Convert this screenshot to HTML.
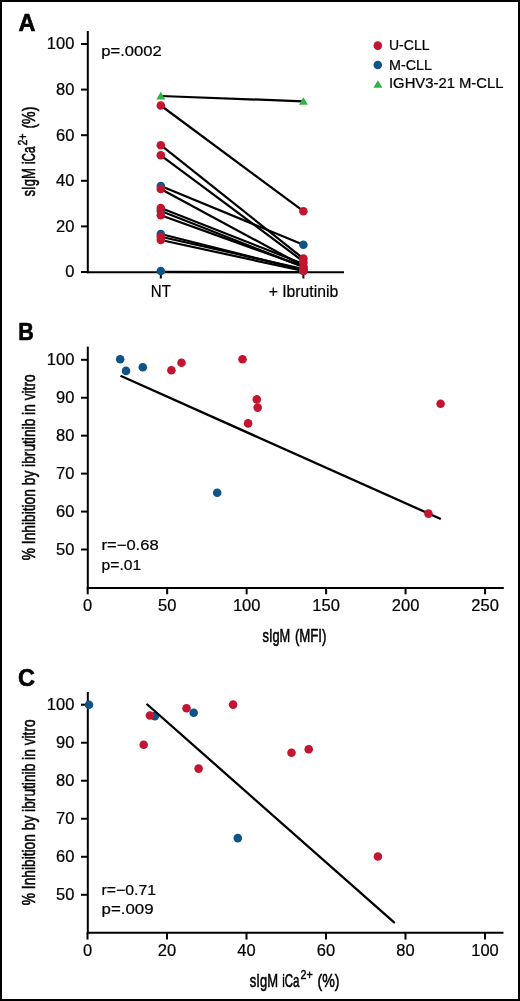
<!DOCTYPE html>
<html><head><meta charset="utf-8"><title>Figure</title>
<style>
html,body{margin:0;padding:0;background:#fff;}
body{width:520px;height:1001px;overflow:hidden;}
svg{display:block;font-family:"Liberation Sans", sans-serif;will-change:transform;}
svg text{fill:#000;}
</style></head>
<body>
<svg width="520" height="1001" viewBox="0 0 520 1001">
<rect x="1" y="1" width="518" height="999" fill="#fff" stroke="#000" stroke-width="2"/>
<line x1="87.8" y1="31" x2="87.8" y2="273.2" stroke="#000" stroke-width="2" stroke-linecap="butt"/>
<line x1="86.8" y1="272.2" x2="344" y2="272.2" stroke="#000" stroke-width="2" stroke-linecap="butt"/>
<line x1="81" y1="272.0" x2="87.8" y2="272.0" stroke="#000" stroke-width="2" stroke-linecap="butt"/>
<g transform="translate(74.3,277.3) scale(1.03,1)"><text x="0" y="0" font-size="16" text-anchor="end" font-weight="normal" stroke="#000" stroke-width="0.22">0</text></g>
<line x1="81" y1="226.4" x2="87.8" y2="226.4" stroke="#000" stroke-width="2" stroke-linecap="butt"/>
<g transform="translate(74.3,231.7) scale(1.03,1)"><text x="0" y="0" font-size="16" text-anchor="end" font-weight="normal" stroke="#000" stroke-width="0.22">20</text></g>
<line x1="81" y1="180.8" x2="87.8" y2="180.8" stroke="#000" stroke-width="2" stroke-linecap="butt"/>
<g transform="translate(74.3,186.1) scale(1.03,1)"><text x="0" y="0" font-size="16" text-anchor="end" font-weight="normal" stroke="#000" stroke-width="0.22">40</text></g>
<line x1="81" y1="135.2" x2="87.8" y2="135.2" stroke="#000" stroke-width="2" stroke-linecap="butt"/>
<g transform="translate(74.3,140.5) scale(1.03,1)"><text x="0" y="0" font-size="16" text-anchor="end" font-weight="normal" stroke="#000" stroke-width="0.22">60</text></g>
<line x1="81" y1="89.6" x2="87.8" y2="89.6" stroke="#000" stroke-width="2" stroke-linecap="butt"/>
<g transform="translate(74.3,94.9) scale(1.03,1)"><text x="0" y="0" font-size="16" text-anchor="end" font-weight="normal" stroke="#000" stroke-width="0.22">80</text></g>
<line x1="81" y1="44" x2="87.8" y2="44" stroke="#000" stroke-width="2" stroke-linecap="butt"/>
<g transform="translate(74.3,49.3) scale(1.03,1)"><text x="0" y="0" font-size="16" text-anchor="end" font-weight="normal" stroke="#000" stroke-width="0.22">100</text></g>
<line x1="160.8" y1="272" x2="160.8" y2="278.5" stroke="#000" stroke-width="2" stroke-linecap="butt"/>
<line x1="303.4" y1="272" x2="303.4" y2="278.5" stroke="#000" stroke-width="2" stroke-linecap="butt"/>
<text x="160.8" y="296.8" font-size="16.5" text-anchor="middle" font-weight="normal" textLength="20" lengthAdjust="spacingAndGlyphs" stroke="#000" stroke-width="0.22">NT</text>
<text x="303.4" y="296.8" font-size="16.5" text-anchor="middle" font-weight="normal" textLength="69.5" lengthAdjust="spacingAndGlyphs" stroke="#000" stroke-width="0.22">+ Ibrutinib</text>
<text x="101.3" y="56.3" font-size="14.5" text-anchor="start" font-weight="normal" textLength="60.5" lengthAdjust="spacingAndGlyphs" stroke="#000" stroke-width="0.22">p=.0002</text>
<circle cx="377.8" cy="45.6" r="4.3" fill="#c41530"/>
<text x="389.0" y="50.3" font-size="14" text-anchor="start" font-weight="normal" stroke="#000" stroke-width="0.22">U-CLL</text>
<circle cx="377.8" cy="65.0" r="4.3" fill="#105486"/>
<text x="389.0" y="69.6" font-size="14" text-anchor="start" font-weight="normal" textLength="43" lengthAdjust="spacingAndGlyphs" stroke="#000" stroke-width="0.22">M-CLL</text>
<path d="M377.9 80.2L382.4 87.8L373.4 87.8Z" fill="#33b04a"/>
<text x="389.0" y="88.4" font-size="14" text-anchor="start" font-weight="normal" textLength="114.5" lengthAdjust="spacingAndGlyphs" stroke="#000" stroke-width="0.22">IGHV3-21 M-CLL</text>
<line x1="160.8" y1="96.0" x2="303.4" y2="101.3" stroke="#000" stroke-width="2.2" stroke-linecap="butt"/>
<line x1="160.8" y1="105.5" x2="303.4" y2="211.2" stroke="#000" stroke-width="2.2" stroke-linecap="butt"/>
<line x1="160.8" y1="145.2" x2="303.4" y2="258.6" stroke="#000" stroke-width="2.2" stroke-linecap="butt"/>
<line x1="160.8" y1="155.3" x2="303.4" y2="261.5" stroke="#000" stroke-width="2.2" stroke-linecap="butt"/>
<line x1="160.8" y1="186.0" x2="303.4" y2="244.7" stroke="#000" stroke-width="2.2" stroke-linecap="butt"/>
<line x1="160.8" y1="189.0" x2="303.4" y2="266.0" stroke="#000" stroke-width="2.2" stroke-linecap="butt"/>
<line x1="160.8" y1="208.0" x2="303.4" y2="264.0" stroke="#000" stroke-width="2.2" stroke-linecap="butt"/>
<line x1="160.8" y1="211.0" x2="303.4" y2="267.0" stroke="#000" stroke-width="2.2" stroke-linecap="butt"/>
<line x1="160.8" y1="215.3" x2="303.4" y2="266.5" stroke="#000" stroke-width="2.2" stroke-linecap="butt"/>
<line x1="160.8" y1="234.0" x2="303.4" y2="270.0" stroke="#000" stroke-width="2.2" stroke-linecap="butt"/>
<line x1="160.8" y1="236.7" x2="303.4" y2="269.0" stroke="#000" stroke-width="2.2" stroke-linecap="butt"/>
<line x1="160.8" y1="240.0" x2="303.4" y2="271.0" stroke="#000" stroke-width="2.2" stroke-linecap="butt"/>
<line x1="160.8" y1="271.8" x2="303.4" y2="272.2" stroke="#000" stroke-width="2.2" stroke-linecap="butt"/>
<circle cx="160.8" cy="186.0" r="4.3" fill="#105486"/>
<circle cx="160.8" cy="211.0" r="4.3" fill="#105486"/>
<circle cx="160.8" cy="234.0" r="4.3" fill="#105486"/>
<circle cx="160.8" cy="271.0" r="4.3" fill="#105486"/>
<circle cx="160.8" cy="105.5" r="4.3" fill="#c41530"/>
<circle cx="160.8" cy="145.2" r="4.3" fill="#c41530"/>
<circle cx="160.8" cy="155.3" r="4.3" fill="#c41530"/>
<circle cx="160.8" cy="189.0" r="4.3" fill="#c41530"/>
<circle cx="160.8" cy="208.0" r="4.3" fill="#c41530"/>
<circle cx="160.8" cy="215.3" r="4.3" fill="#c41530"/>
<circle cx="160.8" cy="236.7" r="4.3" fill="#c41530"/>
<circle cx="160.8" cy="240.0" r="4.3" fill="#c41530"/>
<path d="M160.8 91.8L165.3 99.4L156.3 99.4Z" fill="#33b04a"/>
<circle cx="303.4" cy="244.7" r="4.3" fill="#105486"/>
<circle cx="303.4" cy="267.0" r="4.3" fill="#105486"/>
<circle cx="303.4" cy="270.0" r="4.3" fill="#105486"/>
<circle cx="303.4" cy="271.0" r="4.3" fill="#105486"/>
<circle cx="303.4" cy="211.2" r="4.3" fill="#c41530"/>
<circle cx="303.4" cy="258.6" r="4.3" fill="#c41530"/>
<circle cx="303.4" cy="262.4" r="4.3" fill="#c41530"/>
<circle cx="303.4" cy="267.3" r="4.3" fill="#c41530"/>
<circle cx="303.4" cy="270.6" r="4.3" fill="#c41530"/>
<path d="M303.4 97.2L307.9 104.8L298.9 104.8Z" fill="#33b04a"/>
<g transform="translate(34.8,196.4) rotate(-90)"><g transform="translate(0,0) scale(0.7,1)"><text x="0" y="0" font-size="18.6" stroke="#000" stroke-width="0.55">sIgM</text></g><g transform="translate(32.4,0) scale(0.62,1)"><text x="0" y="0" font-size="18.6" stroke="#000" stroke-width="0.55">iCa</text></g><g transform="translate(50.8,-7.4) scale(0.86,1)"><text x="0" y="0" font-size="12.5" stroke="#000" stroke-width="0.45">2+</text></g><g transform="translate(67.8,0) scale(0.76,1)"><text x="0" y="0" font-size="18.6" stroke="#000" stroke-width="0.55">(%)</text></g></g>
<text x="18.5" y="30.6" font-size="23.5" text-anchor="start" font-weight="bold" stroke="#000" stroke-width="0.6">A</text>
<line x1="87.8" y1="346.6" x2="87.8" y2="589" stroke="#000" stroke-width="2" stroke-linecap="butt"/>
<line x1="86.8" y1="588" x2="503.8" y2="588" stroke="#000" stroke-width="2" stroke-linecap="butt"/>
<line x1="81" y1="549.5" x2="87.8" y2="549.5" stroke="#000" stroke-width="2" stroke-linecap="butt"/>
<g transform="translate(74.3,554.8) scale(1.03,1)"><text x="0" y="0" font-size="16" text-anchor="end" font-weight="normal" stroke="#000" stroke-width="0.22">50</text></g>
<line x1="81" y1="511.56" x2="87.8" y2="511.56" stroke="#000" stroke-width="2" stroke-linecap="butt"/>
<g transform="translate(74.3,516.86) scale(1.03,1)"><text x="0" y="0" font-size="16" text-anchor="end" font-weight="normal" stroke="#000" stroke-width="0.22">60</text></g>
<line x1="81" y1="473.62" x2="87.8" y2="473.62" stroke="#000" stroke-width="2" stroke-linecap="butt"/>
<g transform="translate(74.3,478.92) scale(1.03,1)"><text x="0" y="0" font-size="16" text-anchor="end" font-weight="normal" stroke="#000" stroke-width="0.22">70</text></g>
<line x1="81" y1="435.68" x2="87.8" y2="435.68" stroke="#000" stroke-width="2" stroke-linecap="butt"/>
<g transform="translate(74.3,440.98) scale(1.03,1)"><text x="0" y="0" font-size="16" text-anchor="end" font-weight="normal" stroke="#000" stroke-width="0.22">80</text></g>
<line x1="81" y1="397.74" x2="87.8" y2="397.74" stroke="#000" stroke-width="2" stroke-linecap="butt"/>
<g transform="translate(74.3,403.04) scale(1.03,1)"><text x="0" y="0" font-size="16" text-anchor="end" font-weight="normal" stroke="#000" stroke-width="0.22">90</text></g>
<line x1="81" y1="359.8" x2="87.8" y2="359.8" stroke="#000" stroke-width="2" stroke-linecap="butt"/>
<g transform="translate(74.3,365.1) scale(1.03,1)"><text x="0" y="0" font-size="16" text-anchor="end" font-weight="normal" stroke="#000" stroke-width="0.22">100</text></g>
<line x1="87.7" y1="588" x2="87.7" y2="594.3" stroke="#000" stroke-width="2" stroke-linecap="butt"/>
<g transform="translate(87.7,611.2) scale(1.03,1)"><text x="0" y="0" font-size="16" text-anchor="middle" font-weight="normal" stroke="#000" stroke-width="0.22">0</text></g>
<line x1="167.17" y1="588" x2="167.17" y2="594.3" stroke="#000" stroke-width="2" stroke-linecap="butt"/>
<g transform="translate(167.17,611.2) scale(1.03,1)"><text x="0" y="0" font-size="16" text-anchor="middle" font-weight="normal" stroke="#000" stroke-width="0.22">50</text></g>
<line x1="246.64" y1="588" x2="246.64" y2="594.3" stroke="#000" stroke-width="2" stroke-linecap="butt"/>
<g transform="translate(246.64,611.2) scale(1.03,1)"><text x="0" y="0" font-size="16" text-anchor="middle" font-weight="normal" stroke="#000" stroke-width="0.22">100</text></g>
<line x1="326.11" y1="588" x2="326.11" y2="594.3" stroke="#000" stroke-width="2" stroke-linecap="butt"/>
<g transform="translate(326.11,611.2) scale(1.03,1)"><text x="0" y="0" font-size="16" text-anchor="middle" font-weight="normal" stroke="#000" stroke-width="0.22">150</text></g>
<line x1="405.58" y1="588" x2="405.58" y2="594.3" stroke="#000" stroke-width="2" stroke-linecap="butt"/>
<g transform="translate(405.58,611.2) scale(1.03,1)"><text x="0" y="0" font-size="16" text-anchor="middle" font-weight="normal" stroke="#000" stroke-width="0.22">200</text></g>
<line x1="485.05" y1="588" x2="485.05" y2="594.3" stroke="#000" stroke-width="2" stroke-linecap="butt"/>
<g transform="translate(485.05,611.2) scale(1.03,1)"><text x="0" y="0" font-size="16" text-anchor="middle" font-weight="normal" stroke="#000" stroke-width="0.22">250</text></g>
<line x1="120.5" y1="375.8" x2="440.8" y2="519" stroke="#000" stroke-width="2.3" stroke-linecap="butt"/>
<circle cx="120.2" cy="359.2" r="4.3" fill="#105486"/>
<circle cx="126" cy="370.9" r="4.3" fill="#105486"/>
<circle cx="142.8" cy="367.2" r="4.3" fill="#105486"/>
<circle cx="217.2" cy="492.8" r="4.3" fill="#105486"/>
<circle cx="171.4" cy="370.2" r="4.3" fill="#c41530"/>
<circle cx="181.5" cy="362.8" r="4.3" fill="#c41530"/>
<circle cx="242.5" cy="359.2" r="4.3" fill="#c41530"/>
<circle cx="256.8" cy="399.4" r="4.3" fill="#c41530"/>
<circle cx="257.7" cy="407.6" r="4.3" fill="#c41530"/>
<circle cx="248.1" cy="423.4" r="4.3" fill="#c41530"/>
<circle cx="440.6" cy="403.7" r="4.3" fill="#c41530"/>
<circle cx="428.4" cy="513.6" r="4.3" fill="#c41530"/>
<text x="101.6" y="549.8" font-size="14.5" text-anchor="start" font-weight="normal" textLength="57" lengthAdjust="spacingAndGlyphs" stroke="#000" stroke-width="0.22">r=−0.68</text>
<text x="101.6" y="569.6" font-size="14.5" text-anchor="start" font-weight="normal" textLength="39.5" lengthAdjust="spacingAndGlyphs" stroke="#000" stroke-width="0.22">p=.01</text>
<g transform="translate(35.0,467.3) rotate(-90) scale(0.74,1)"><text x="0" y="0" font-size="18.6" text-anchor="middle" stroke="#000" stroke-width="0.55">% Inhibition by ibrutinib in vitro</text></g>
<g transform="translate(262.5,641.8) scale(0.69,1)"><text x="0" y="0" font-size="18.6" stroke="#000" stroke-width="0.55">sIgM</text></g>
<g transform="translate(294.9,641.8) scale(0.71,1)"><text x="0" y="0" font-size="18.6" stroke="#000" stroke-width="0.55">(MFI)</text></g>
<g transform="translate(18.2,340.2) scale(0.92,1)"><text x="0" y="0" font-size="23.5" text-anchor="start" font-weight="bold" stroke="#000" stroke-width="0.6">B</text></g>
<line x1="87.8" y1="692" x2="87.8" y2="933.8" stroke="#000" stroke-width="2" stroke-linecap="butt"/>
<line x1="86.8" y1="932.8" x2="503.5" y2="932.8" stroke="#000" stroke-width="2" stroke-linecap="butt"/>
<line x1="81" y1="894.8" x2="87.8" y2="894.8" stroke="#000" stroke-width="2" stroke-linecap="butt"/>
<g transform="translate(74.3,900.1) scale(1.03,1)"><text x="0" y="0" font-size="16" text-anchor="end" font-weight="normal" stroke="#000" stroke-width="0.22">50</text></g>
<line x1="81" y1="856.78" x2="87.8" y2="856.78" stroke="#000" stroke-width="2" stroke-linecap="butt"/>
<g transform="translate(74.3,862.08) scale(1.03,1)"><text x="0" y="0" font-size="16" text-anchor="end" font-weight="normal" stroke="#000" stroke-width="0.22">60</text></g>
<line x1="81" y1="818.76" x2="87.8" y2="818.76" stroke="#000" stroke-width="2" stroke-linecap="butt"/>
<g transform="translate(74.3,824.06) scale(1.03,1)"><text x="0" y="0" font-size="16" text-anchor="end" font-weight="normal" stroke="#000" stroke-width="0.22">70</text></g>
<line x1="81" y1="780.74" x2="87.8" y2="780.74" stroke="#000" stroke-width="2" stroke-linecap="butt"/>
<g transform="translate(74.3,786.04) scale(1.03,1)"><text x="0" y="0" font-size="16" text-anchor="end" font-weight="normal" stroke="#000" stroke-width="0.22">80</text></g>
<line x1="81" y1="742.72" x2="87.8" y2="742.72" stroke="#000" stroke-width="2" stroke-linecap="butt"/>
<g transform="translate(74.3,748.02) scale(1.03,1)"><text x="0" y="0" font-size="16" text-anchor="end" font-weight="normal" stroke="#000" stroke-width="0.22">90</text></g>
<line x1="81" y1="704.7" x2="87.8" y2="704.7" stroke="#000" stroke-width="2" stroke-linecap="butt"/>
<g transform="translate(74.3,710.0) scale(1.03,1)"><text x="0" y="0" font-size="16" text-anchor="end" font-weight="normal" stroke="#000" stroke-width="0.22">100</text></g>
<line x1="87.5" y1="932.8" x2="87.5" y2="939.6" stroke="#000" stroke-width="2" stroke-linecap="butt"/>
<g transform="translate(87.5,956.3) scale(1.03,1)"><text x="0" y="0" font-size="16" text-anchor="middle" font-weight="normal" stroke="#000" stroke-width="0.22">0</text></g>
<line x1="167.0" y1="932.8" x2="167.0" y2="939.6" stroke="#000" stroke-width="2" stroke-linecap="butt"/>
<g transform="translate(167.0,956.3) scale(1.03,1)"><text x="0" y="0" font-size="16" text-anchor="middle" font-weight="normal" stroke="#000" stroke-width="0.22">20</text></g>
<line x1="246.5" y1="932.8" x2="246.5" y2="939.6" stroke="#000" stroke-width="2" stroke-linecap="butt"/>
<g transform="translate(246.5,956.3) scale(1.03,1)"><text x="0" y="0" font-size="16" text-anchor="middle" font-weight="normal" stroke="#000" stroke-width="0.22">40</text></g>
<line x1="326.0" y1="932.8" x2="326.0" y2="939.6" stroke="#000" stroke-width="2" stroke-linecap="butt"/>
<g transform="translate(326.0,956.3) scale(1.03,1)"><text x="0" y="0" font-size="16" text-anchor="middle" font-weight="normal" stroke="#000" stroke-width="0.22">60</text></g>
<line x1="405.5" y1="932.8" x2="405.5" y2="939.6" stroke="#000" stroke-width="2" stroke-linecap="butt"/>
<g transform="translate(405.5,956.3) scale(1.03,1)"><text x="0" y="0" font-size="16" text-anchor="middle" font-weight="normal" stroke="#000" stroke-width="0.22">80</text></g>
<line x1="485.0" y1="932.8" x2="485.0" y2="939.6" stroke="#000" stroke-width="2" stroke-linecap="butt"/>
<g transform="translate(485.0,956.3) scale(1.03,1)"><text x="0" y="0" font-size="16" text-anchor="middle" font-weight="normal" stroke="#000" stroke-width="0.22">100</text></g>
<circle cx="89" cy="704.7" r="4.3" fill="#105486"/>
<circle cx="154.9" cy="716.1" r="4.3" fill="#105486"/>
<circle cx="193.7" cy="712.7" r="4.3" fill="#105486"/>
<circle cx="237.8" cy="838.1" r="4.3" fill="#105486"/>
<circle cx="149.9" cy="715.5" r="4.3" fill="#c41530"/>
<circle cx="186.5" cy="708.3" r="4.3" fill="#c41530"/>
<circle cx="233.1" cy="704.6" r="4.3" fill="#c41530"/>
<circle cx="143.7" cy="744.8" r="4.3" fill="#c41530"/>
<circle cx="198.6" cy="768.6" r="4.3" fill="#c41530"/>
<circle cx="291.5" cy="752.7" r="4.3" fill="#c41530"/>
<circle cx="308.7" cy="749.2" r="4.3" fill="#c41530"/>
<circle cx="377.9" cy="856.5" r="4.3" fill="#c41530"/>
<line x1="147.3" y1="704.5" x2="394.1" y2="922.4" stroke="#000" stroke-width="2.3" stroke-linecap="round"/>
<text x="101.6" y="894.9" font-size="14.5" text-anchor="start" font-weight="normal" textLength="54.5" lengthAdjust="spacingAndGlyphs" stroke="#000" stroke-width="0.22">r=−0.71</text>
<text x="101.6" y="914" font-size="14.5" text-anchor="start" font-weight="normal" textLength="52" lengthAdjust="spacingAndGlyphs" stroke="#000" stroke-width="0.22">p=.009</text>
<g transform="translate(35.2,812.3) rotate(-90) scale(0.74,1)"><text x="0" y="0" font-size="18.6" text-anchor="middle" stroke="#000" stroke-width="0.55">% Inhibition by ibrutinib in vitro</text></g>
<g transform="translate(249.8,986.6) rotate(0)"><g transform="translate(0,0) scale(0.7,1)"><text x="0" y="0" font-size="18.6" stroke="#000" stroke-width="0.55">sIgM</text></g><g transform="translate(32.4,0) scale(0.62,1)"><text x="0" y="0" font-size="18.6" stroke="#000" stroke-width="0.55">iCa</text></g><g transform="translate(50.8,-7.4) scale(0.86,1)"><text x="0" y="0" font-size="12.5" stroke="#000" stroke-width="0.45">2+</text></g><g transform="translate(67.8,0) scale(0.76,1)"><text x="0" y="0" font-size="18.6" stroke="#000" stroke-width="0.55">(%)</text></g></g>
<text x="18" y="685.8" font-size="23.5" text-anchor="start" font-weight="bold" stroke="#000" stroke-width="0.6">C</text>
</svg>
</body></html>
